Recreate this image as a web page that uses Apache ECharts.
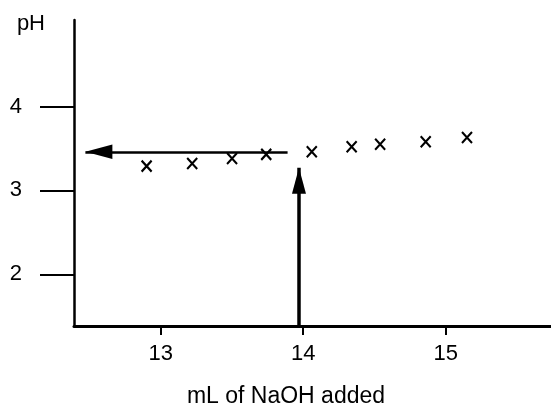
<!DOCTYPE html>
<html>
<head>
<meta charset="utf-8">
<script src="https://cdn.jsdelivr.net/npm/echarts@6/dist/echarts.min.js"></script>
<style>
    html, body { margin: 0; padding: 0; background: #fff; }
    #chart { width: 551px; height: 408px; }
</style>
</head>
<body>
<div id="chart"></div>
<script>
    // titration points
    var volume = [12.90, 13.22, 13.50, 13.74, 14.06, 14.34, 14.54, 14.86, 15.15];
    var ph = [3.29, 3.32, 3.38, 3.43, 3.46, 3.52, 3.55, 3.58, 3.63];
    var xTicks = [13, 14, 15];
    var yTicks = [2, 3, 4];
    // arrows: [from, to]
    var upArrow = [[13.97, 1.385], [13.97, 3.27]];
    var leftArrow = [[13.89, 3.46], [12.47, 3.46]];

    var font = 'Liberation Sans, Arial, sans-serif';
    var chart = echarts.init(document.getElementById('chart'));

    var points = volume.map(function (v, i) { return [v, ph[i]]; });
    // arrow head: tip sits in the middle of a 52x52 box, so it lands on the end point
    var head = 'path://M0,0 L0,0 M52,52 L52,52 M26,26 L33,52 L19,52 Z';

    var option = {
        animation: false,
        grid: { left: 74, right: 0, top: 20, bottom: 82, containLabel: false, outerBoundsMode: 'none' },
        xAxis: {
            type: 'value',
            min: 12.39,
            max: 15.74,
            name: 'mL of NaOH added',
            nameLocation: 'middle',
            nameGap: 59,
            nameTextStyle: { color: '#000', fontFamily: font, fontSize: 23, padding: [0, 53, 0, 0] },
            splitLine: { show: false },
            axisLine: { lineStyle: { color: '#000', width: 3 } },
            axisTick: { customValues: xTicks, length: 9, lineStyle: { color: '#000', width: 2 } },
            axisLabel: { customValues: xTicks, margin: 17, color: '#000', fontFamily: font, fontSize: 22 }
        },
        yAxis: {
            type: 'value',
            min: 1.385,
            max: 5.03,
            name: 'pH',
            nameLocation: 'end',
            nameGap: -4,
            nameTextStyle: { color: '#000', fontFamily: font, fontSize: 22, align: 'right', verticalAlign: 'middle', padding: [0, 29, 0, 0] },
            splitLine: { show: false },
            axisLine: { lineStyle: { color: '#000', width: 2.5 } },
            axisTick: { customValues: yTicks, length: 34, lineStyle: { color: '#000', width: 2 } },
            axisLabel: { customValues: yTicks, margin: 52, color: '#000', fontFamily: font, fontSize: 22 }
        },
        series: [
            {
                type: 'scatter',
                data: points,
                symbol: 'path://M0,0 L10,11 M10,0 L0,11',
                symbolSize: [10, 11],
                itemStyle: { color: 'none', borderColor: '#000', borderWidth: 2.2, opacity: 1 }
            },
            {
                type: 'lines',
                coordinateSystem: 'cartesian2d',
                symbol: ['none', head],
                symbolSize: 52,
                lineStyle: { color: '#000', width: 3.5, opacity: 1 },
                data: [{ coords: upArrow }]
            },
            {
                type: 'lines',
                coordinateSystem: 'cartesian2d',
                symbol: ['none', head],
                symbolSize: 54,
                lineStyle: { color: '#000', width: 2.5, opacity: 1 },
                data: [{ coords: leftArrow }]
            }
        ]
    };
    chart.setOption(option);
</script>
</body>
</html>
